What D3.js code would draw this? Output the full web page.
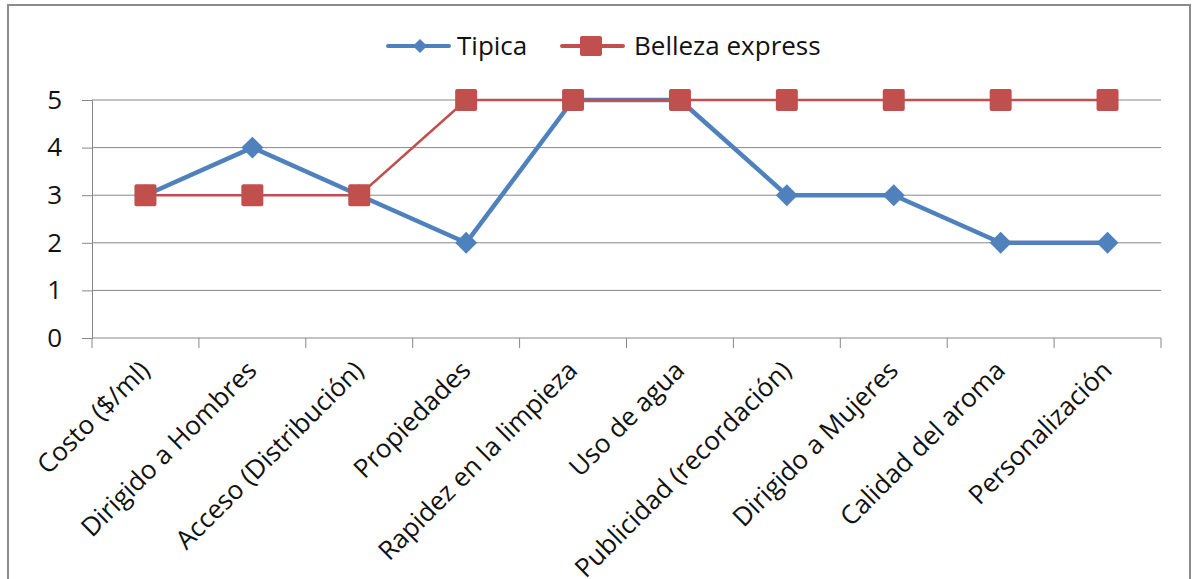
<!DOCTYPE html>
<html>
<head>
<meta charset="utf-8">
<script src="https://cdn.jsdelivr.net/npm/d3@7"></script>
<style>
  html, body { margin: 0; padding: 0; background: #fff; }
  svg { display: block; }
  text { font-family: "Open Sans", "DejaVu Sans", sans-serif; fill: #111; }
</style>
</head>
<body>
<svg id="chart" width="1194" height="579"></svg>
<script>
// Categories and series
const categories = [
  "Costo ($/ml)", "Dirigido a Hombres", "Acceso (Distribución)", "Propiedades",
  "Rapidez en la limpieza", "Uso de agua", "Publicidad (recordación)",
  "Dirigido a Mujeres", "Calidad del aroma", "Personalización"
];
const tipica = [3, 4, 3, 2, 5, 5, 3, 3, 2, 2];
const belleza = [3, 3, 3, 5, 5, 5, 5, 5, 5, 5];
const yTicks = [0, 1, 2, 3, 4, 5];
const seriesNames = ["Tipica", "Belleza express"];

const margin = { left: 92, right: 1161, top: 100, bottom: 338 };
const blue = "#4F81BD", red = "#C0504D", grid = "#878787";
const FONT = 26;

const svg = d3.select("#chart");

// Outer chart frame
svg.append("rect")
  .attr("x", 8).attr("y", 5).attr("width", 1182).attr("height", 600)
  .attr("fill", "#fff").attr("stroke", "#8c8c8c").attr("stroke-width", 2);

const x = d3.scaleBand().domain(categories).range([margin.left, margin.right]).padding(0);
const y = d3.scaleLinear().domain([0, 5]).range([margin.bottom, margin.top]);
const cx = d => x(d) + x.bandwidth() / 2;

// Horizontal gridlines
svg.append("g").selectAll("line").data(yTicks.filter(t => t > 0)).join("line")
  .attr("x1", margin.left).attr("x2", margin.right)
  .attr("y1", d => y(d)).attr("y2", d => y(d))
  .attr("stroke", grid).attr("stroke-width", 1);

// Y axis
const yAxis = svg.append("g")
  .attr("transform", `translate(${margin.left},0)`)
  .call(d3.axisLeft(y).tickValues(yTicks).tickSize(10).tickPadding(20).tickFormat(d3.format("d")));
yAxis.select(".domain").attr("stroke", grid);
yAxis.selectAll(".tick line").attr("stroke", grid);
yAxis.selectAll("text").attr("font-size", FONT)
  .style("font-family", "'Open Sans', 'DejaVu Sans', sans-serif").attr("fill", "#111");

// X axis with category boundary ticks
const xAxisG = svg.append("g").attr("transform", `translate(0,${margin.bottom})`);
xAxisG.append("line").attr("x1", margin.left).attr("x2", margin.right)
  .attr("y1", 0).attr("y2", 0).attr("stroke", grid);
const bounds = categories.map(c => x(c)).concat([margin.right]);
xAxisG.selectAll("line.tk").data(bounds).join("line").attr("class", "tk")
  .attr("x1", d => d).attr("x2", d => d).attr("y1", 0).attr("y2", 10).attr("stroke", grid);

// Rotated category labels
xAxisG.selectAll("text").data(categories).join("text")
  .attr("text-anchor", "end")
  .attr("font-size", FONT)
  .attr("transform", d => `translate(${cx(d) + 6},${34}) rotate(-45)`)
  .text(d => d);

// Lines
const line = d3.line().x((d, i) => cx(categories[i])).y(d => y(d));

svg.append("path").datum(tipica).attr("d", line)
  .attr("fill", "none").attr("stroke", blue).attr("stroke-width", 4.5).attr("stroke-linejoin", "round");
const diamond = d3.symbol().type(d3.symbolSquare).size(240);
svg.append("g").selectAll("path").data(tipica).join("path")
  .attr("d", diamond)
  .attr("transform", (d, i) => `translate(${cx(categories[i])},${y(d)}) rotate(45)`)
  .attr("fill", blue);

svg.append("path").datum(belleza).attr("d", line)
  .attr("fill", "none").attr("stroke", red).attr("stroke-width", 2.5);
svg.append("g").selectAll("rect").data(belleza).join("rect")
  .attr("x", (d, i) => cx(categories[i]) - 11).attr("y", d => y(d) - 11)
  .attr("width", 22).attr("height", 22).attr("rx", 2)
  .attr("fill", red);

// Legend
const lg = svg.append("g");
const legendDiamond = d3.symbol().type(d3.symbolSquare).size(100);
const legendItems = [
  { name: seriesNames[0], color: blue, x0: 388, marker: "diamond" },
  { name: seriesNames[1], color: red, x0: 562, marker: "square" }
];
legendItems.forEach(it => {
  const g = lg.append("g").attr("transform", `translate(${it.x0},46)`);
  g.append("line").attr("x1", 0).attr("x2", 61).attr("y1", 0).attr("y2", 0)
    .attr("stroke", it.color).attr("stroke-width", 4).attr("stroke-linecap", "round");
  if (it.marker === "diamond") {
    g.append("path").attr("d", legendDiamond).attr("transform", "translate(32,0) rotate(45)").attr("fill", it.color);
  } else {
    g.append("rect").attr("x", 18).attr("y", -10).attr("width", 22).attr("height", 20).attr("rx", 2).attr("fill", it.color);
  }
  g.append("text").attr("x", it.marker === "diamond" ? 69 : 72).attr("y", 9).attr("font-size", FONT).text(it.name);
});
</script>
</body>
</html>
